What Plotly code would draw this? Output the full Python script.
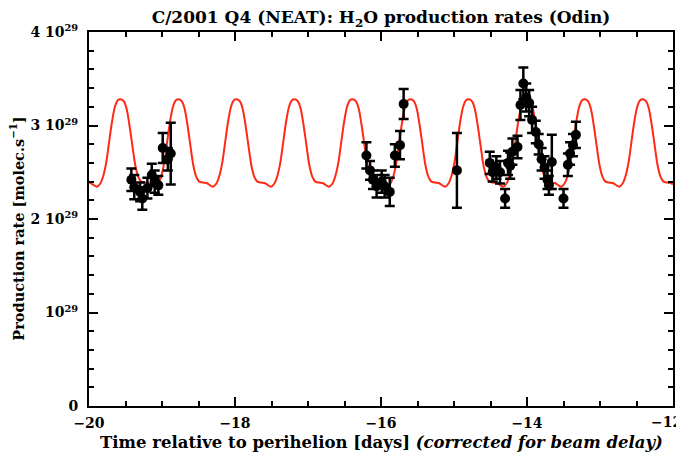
import plotly.graph_objects as go

# Observed H2O production rates (units of 1e29 molec/s)
obs_t = [-19.42, -19.38, -19.30, -19.27, -19.20, -19.14, -19.10, -19.05, -18.99, -18.92, -18.88,
         -16.20, -16.15, -16.11, -16.06, -15.99, -15.95, -15.88, -15.81, -15.74, -15.69,
         -14.96, -14.51, -14.47, -14.42, -14.37, -14.30, -14.26, -14.23, -14.20, -14.13,
         -14.09, -14.05, -14.01, -13.97, -13.93, -13.88, -13.84, -13.80, -13.76, -13.72,
         -13.70, -13.66, -13.50, -13.44, -13.41, -13.37, -13.33]
obs_q = [2.42, 2.34, 2.29, 2.22, 2.33, 2.47, 2.40, 2.36, 2.76, 2.64, 2.70,
         2.68, 2.52, 2.42, 2.35, 2.40, 2.35, 2.29, 2.68, 2.79, 3.23,
         2.52, 2.60, 2.50, 2.55, 2.50, 2.22, 2.60, 2.57, 2.72, 2.77,
         3.22, 3.45, 3.30, 3.24, 3.06, 2.93, 2.80, 2.64, 2.55, 2.42,
         2.36, 2.61, 2.22, 2.58, 2.70, 2.79, 2.90]
obs_err = [0.12, 0.13, 0.10, 0.12, 0.11, 0.12, 0.12, 0.10, 0.16, 0.12, 0.33,
           0.14, 0.10, 0.10, 0.12, 0.12, 0.12, 0.15, 0.12, 0.15, 0.16,
           0.40, 0.12, 0.10, 0.12, 0.12, 0.10, 0.13, 0.14, 0.14, 0.12,
           0.16, 0.17, 0.15, 0.14, 0.14, 0.12, 0.11, 0.12, 0.12, 0.10,
           0.10, 0.29, 0.10, 0.12, 0.12, 0.12, 0.14]

# Model curve
model_t = [-20.000, -19.980, -19.930, -19.895, -19.845, -19.805, -19.765, -19.725, -19.685, -19.645, -19.605,
           -19.565, -19.525, -19.485, -19.445, -19.405, -19.365, -19.325, -19.285, -19.235, -19.185, -19.135, -19.100, -19.050, -19.010, -18.970, -18.930, -18.890, -18.850, -18.810,
           -18.770, -18.730, -18.690, -18.650, -18.610, -18.570, -18.530, -18.490, -18.440, -18.390, -18.340, -18.305, -18.255, -18.215, -18.175, -18.135, -18.095, -18.055, -18.015,
           -17.975, -17.935, -17.895, -17.855, -17.815, -17.775, -17.735, -17.695, -17.645, -17.595, -17.545, -17.510, -17.460, -17.420, -17.380, -17.340, -17.300, -17.260, -17.220,
           -17.180, -17.140, -17.100, -17.060, -17.020, -16.980, -16.940, -16.900, -16.850, -16.800, -16.750, -16.715, -16.665, -16.625, -16.585, -16.545, -16.505, -16.465, -16.425,
           -16.385, -16.345, -16.305, -16.265, -16.225, -16.185, -16.145, -16.105, -16.055, -16.005, -15.955, -15.920, -15.870, -15.830, -15.790, -15.750, -15.710, -15.670, -15.630,
           -15.590, -15.550, -15.510, -15.470, -15.430, -15.390, -15.350, -15.310, -15.260, -15.210, -15.160, -15.125, -15.075, -15.035, -14.995, -14.955, -14.915, -14.875, -14.835,
           -14.795, -14.755, -14.715, -14.675, -14.635, -14.595, -14.555, -14.515, -14.465, -14.415, -14.365, -14.330, -14.280, -14.240, -14.200, -14.160, -14.120, -14.080, -14.040,
           -14.000, -13.960, -13.920, -13.880, -13.840, -13.800, -13.760, -13.720, -13.670, -13.620, -13.570, -13.535, -13.485, -13.445, -13.405, -13.365, -13.325, -13.285, -13.245,
           -13.205, -13.165, -13.125, -13.085, -13.045, -13.005, -12.965, -12.925, -12.875, -12.825, -12.775, -12.740, -12.690, -12.650, -12.610, -12.570, -12.530, -12.490, -12.450,
           -12.410, -12.370, -12.330, -12.290, -12.250, -12.210, -12.170, -12.130, -12.080, -12.030, -12.000]
model_q = [2.387, 2.385, 2.36, 2.345, 2.38, 2.46, 2.60, 2.82, 3.04, 3.20, 3.27,
           3.28, 3.26, 3.18, 3.00, 2.78, 2.57, 2.45, 2.40, 2.39, 2.385, 2.36, 2.345, 2.38, 2.46, 2.60, 2.82, 3.04, 3.20, 3.27,
           3.28, 3.26, 3.18, 3.00, 2.78, 2.57, 2.45, 2.40, 2.39, 2.385, 2.36, 2.345, 2.38, 2.46, 2.60, 2.82, 3.04, 3.20, 3.27,
           3.28, 3.26, 3.18, 3.00, 2.78, 2.57, 2.45, 2.40, 2.39, 2.385, 2.36, 2.345, 2.38, 2.46, 2.60, 2.82, 3.04, 3.20, 3.27,
           3.28, 3.26, 3.18, 3.00, 2.78, 2.57, 2.45, 2.40, 2.39, 2.385, 2.36, 2.345, 2.38, 2.46, 2.60, 2.82, 3.04, 3.20, 3.27,
           3.28, 3.26, 3.18, 3.00, 2.78, 2.57, 2.45, 2.40, 2.39, 2.385, 2.36, 2.345, 2.38, 2.46, 2.60, 2.82, 3.04, 3.20, 3.27,
           3.28, 3.26, 3.18, 3.00, 2.78, 2.57, 2.45, 2.40, 2.39, 2.385, 2.36, 2.345, 2.38, 2.46, 2.60, 2.82, 3.04, 3.20, 3.27,
           3.28, 3.26, 3.18, 3.00, 2.78, 2.57, 2.45, 2.40, 2.39, 2.385, 2.36, 2.345, 2.38, 2.46, 2.60, 2.82, 3.04, 3.20, 3.27,
           3.28, 3.26, 3.18, 3.00, 2.78, 2.57, 2.45, 2.40, 2.39, 2.385, 2.36, 2.345, 2.38, 2.46, 2.60, 2.82, 3.04, 3.20, 3.27,
           3.28, 3.26, 3.18, 3.00, 2.78, 2.57, 2.45, 2.40, 2.39, 2.385, 2.36, 2.345, 2.38, 2.46, 2.60, 2.82, 3.04, 3.20, 3.27,
           3.28, 3.26, 3.18, 3.00, 2.78, 2.57, 2.45, 2.40, 2.39, 2.385, 2.37]

y_tickvals = [0, 1, 2, 3, 4]
y_ticktext = ["0", "10<sup>29</sup>", "2 10<sup>29</sup>", "3 10<sup>29</sup>", "4 10<sup>29</sup>"]
x_tickvals = [-20, -18, -16, -14, -12]
x_ticktext = ["\u221220", "\u221218", "\u221216", "\u221214", ""]
x_last_label = "\u221212"   # drawn against the right edge, as in the original

FONT = "DejaVu Serif"

fig = go.Figure()
fig.add_trace(go.Scatter(x=model_t, y=model_q, mode="lines",
                         line=dict(color="#ff2a14", width=2, shape="spline", smoothing=0.8),
                         showlegend=False, hoverinfo="skip"))
fig.add_trace(go.Scatter(x=obs_t, y=obs_q, mode="markers",
                         marker=dict(color="black", size=10),
                         error_y=dict(type="data", array=obs_err, color="black", thickness=2.5, width=5),
                         showlegend=False))

axis_common = dict(showline=True, linecolor="black", linewidth=2, mirror="ticks",
                   ticks="inside", tickcolor="black", tickwidth=2, ticklen=9,
                   showgrid=False, zeroline=False, automargin=False,
                   tickfont=dict(family=FONT, size=14, color="black", weight="bold"))

fig.update_xaxes(range=[-20, -12], tickvals=x_tickvals, ticktext=x_ticktext,
                 ticklabeloverflow="allow", ticklabelstandoff=3,
                 minor=dict(ticks="inside", dtick=0.5, tick0=-20, ticklen=5, tickwidth=2, tickcolor="black", showgrid=False),
                 **axis_common)
fig.update_yaxes(range=[0, 4], tickvals=y_tickvals, ticktext=y_ticktext,
                 ticklabelstandoff=6,
                 minor=dict(ticks="inside", dtick=0.2, tick0=0, ticklen=5, tickwidth=2, tickcolor="black", showgrid=False),
                 **axis_common)

# The page body adds an 8px offset; the figure is sized and placed to compensate.
fig.update_layout(
    width=676, height=448,
    margin=dict(l=81, r=11, t=24, b=50),
    paper_bgcolor="white", plot_bgcolor="white",
    title=dict(text="C/2001 Q4 (NEAT): H<sub>2</sub>O production rates (Odin)",
               x=0.5, xref="paper", xanchor="center", y=0.993, yref="container", yanchor="top",
               font=dict(family=FONT, size=17, color="black", weight="bold")),
    annotations=[
        dict(text=x_last_label, xref="paper", yref="paper", x=1.0185, y=-0.044,
             xanchor="right", yanchor="middle", showarrow=False,
             font=dict(family=FONT, size=14, color="black", weight="bold")),
        dict(text="Time relative to perihelion [days] <i>(corrected for beam delay)</i>",
             xref="paper", yref="paper", x=0.5, y=-0.097, xanchor="center", yanchor="middle",
             showarrow=False, font=dict(family=FONT, size=16.5, color="black", weight="bold")),
        dict(text="Production rate [molec.s<sup>\u22121</sup>]",
             xref="paper", yref="paper", x=-0.124, y=0.473, xanchor="center", yanchor="middle",
             textangle=-90, showarrow=False,
             font=dict(family=FONT, size=14.5, color="black", weight="bold")),
    ],
)

fig.write_html("out.html")
